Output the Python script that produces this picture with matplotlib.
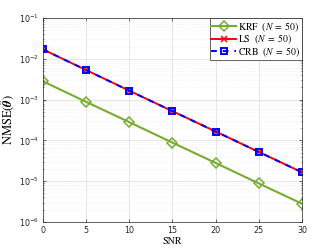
import matplotlib
matplotlib.use("Agg")
import matplotlib.pyplot as plt
import numpy as np

snr = [0, 5, 10, 15, 20, 25, 30]
nmse_krf = [2.8e-3, 8.8e-4, 2.8e-4, 8.8e-5, 2.8e-5, 8.8e-6, 2.8e-6]
nmse_ls = [1.7e-2, 5.3e-3, 1.65e-3, 5.2e-4, 1.65e-4, 5.2e-5, 1.65e-5]
nmse_crb = [1.7e-2, 5.3e-3, 1.65e-3, 5.2e-4, 1.65e-4, 5.2e-5, 1.65e-5]

plt.rcParams["mathtext.fontset"] = "stix"
plt.rcParams["font.family"] = "DejaVu Sans"

fig = plt.figure(figsize=(3.33, 2.5), dpi=100)
ax = fig.add_axes([0.129, 0.112, 0.778, 0.816])

ax.semilogy(snr, nmse_krf, color="#77AC30", linewidth=1.5, marker="D",
            markersize=5, markerfacecolor="none", markeredgewidth=1.1,
            label=r"KRF  $(N\;=\;50)$")
ax.semilogy(snr, nmse_ls, color="red", linewidth=1.4, marker="x",
            markersize=4, markeredgewidth=1.1, label=r"LS  $(N\;=\;50)$")
ax.semilogy(snr, nmse_crb, color="blue", linewidth=1.4, linestyle=(0, (3, 3)),
            marker="s", markersize=4.5, markerfacecolor="none",
            markeredgewidth=1.4, label=r"CRB  $(N\;=\;50)$")

ax.set_xlim(0, 30)
ax.set_ylim(1e-6, 1e-1)
ax.set_xticks(snr)
ax.tick_params(which="both", direction="in", labelsize=5.8, length=2,
               top=True, right=True, width=0.5, colors="#262626", pad=3)
ax.tick_params(which="minor", length=1)
ax.grid(which="major", color="#dcdcdc", linewidth=0.5)
ax.grid(which="minor", color="#e6e6e6", linewidth=0.4, linestyle=":")
for spine in ax.spines.values():
    spine.set_linewidth(0.5)
    spine.set_color("#262626")

ax.set_xlabel("SNR", family="STIXGeneral", fontsize=7.2, labelpad=1)
ax.set_ylabel(r"NMSE$(\hat{\boldsymbol{\theta}})$", family="STIXGeneral",
              fontsize=9, labelpad=1)

leg = ax.legend(loc="upper right", fancybox=False,
                edgecolor="#262626", framealpha=1, borderpad=0.15,
                labelspacing=-0.15, handlelength=2.6, handletextpad=0.15,
                borderaxespad=0.05, prop={"family": "STIXGeneral", "size": 7})
leg.get_frame().set_linewidth(0.5)

fig.savefig("out.png", dpi=100)
